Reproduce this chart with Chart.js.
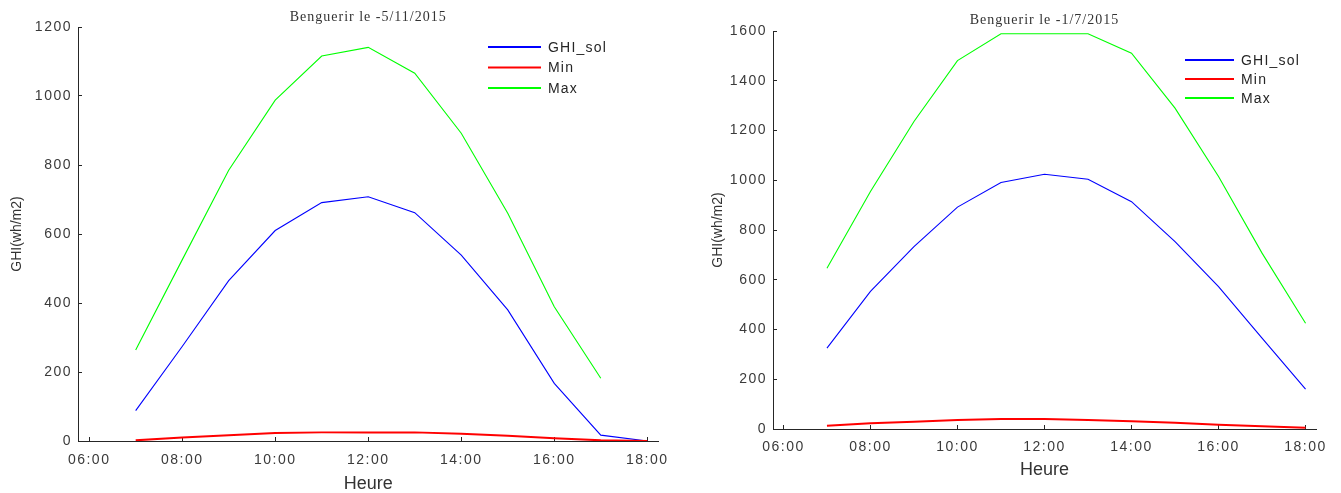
<!DOCTYPE html>
<html>
<head>
<meta charset="utf-8">
<title>GHI Benguerir</title>
<script src="https://cdn.jsdelivr.net/npm/chart.js@4.4.1/dist/chart.umd.min.js"></script>
<style>
  html, body { margin: 0; padding: 0; background: #fff; overflow: hidden; }
  .box { position: absolute; top: 0; height: 493px; }
  #boxNov { left: 0; width: 680px; }
  #boxJul { left: 680px; width: 661px; }
</style>
</head>
<body>
<div class="box" id="boxNov"><canvas id="chartNov"></canvas></div>
<div class="box" id="boxJul"><canvas id="chartJul"></canvas></div>
<script>
// heures de mesure
const heures = [7, 8, 9, 10, 11, 12, 13, 14, 15, 16, 17, 18];
const xTicks = [6, 8, 10, 12, 14, 16, 18];
const legende = ['GHI_sol', 'Min', 'Max'];

// 5/11/2015
const ghiSolNov = [88, 274, 465, 610, 691, 708, 662, 539, 380, 167, 17, 0];
const minNov = [2, 10, 17, 23, 25, 25, 25, 21, 15, 8, 2, 0];
const maxNov = [264, 525, 785, 988, 1116, 1141, 1066, 892, 660, 389, 182];

// 1/7/2015
const ghiSolJul = [325, 553, 733, 892, 991, 1024, 1004, 914, 753, 572, 365, 160];
const minJul = [13, 23, 29, 36, 40, 40, 36, 31, 25, 17, 11, 5];
const maxJul = [646, 955, 1236, 1481, 1589, 1589, 1589, 1511, 1290, 1015, 707, 425];

const couleurs = ['#0000ff', '#ff0000', '#00ff00'];
const axeCouleur = '#262626';
const police = '"Liberation Sans", Arial, sans-serif';

function points(vals) {
  return vals.map((v, i) => ({ x: heures[i], y: v }));
}

function heureLabel(v) {
  return String(v).padStart(2, '0') + ':00';
}

// titre, legende et noms des axes dessines a la main (style matlab)
const decor = {
  id: 'decor',
  beforeDraw(chart) {
    chart.ctx.letterSpacing = '1.5px';
  },
  afterDraw(chart, args, opts) {
    const ctx = chart.ctx;
    const a = chart.chartArea;
    ctx.save();
    ctx.textBaseline = 'middle';
    ctx.textAlign = 'center';

    ctx.letterSpacing = '1px';
    ctx.fillStyle = '#333';
    ctx.font = '14px "Liberation Serif", serif';
    ctx.fillText(opts.titre, (a.left + a.right) / 2, a.top - opts.titreDy);

    ctx.letterSpacing = '0px';
    ctx.font = '18px ' + police;
    ctx.fillText('Heure', (a.left + a.right) / 2, opts.heureY);

    ctx.save();
    ctx.translate(opts.ghiX, (a.top + a.bottom) / 2);
    ctx.rotate(-Math.PI / 2);
    ctx.font = '14px ' + police;
    ctx.fillText('GHI(wh/m2)', 0, 0);
    ctx.restore();

    ctx.letterSpacing = '1.2px';
    ctx.font = '14px ' + police;
    ctx.textAlign = 'left';
    legende.forEach((nom, i) => {
      const y = opts.legY + i * opts.legPas;
      ctx.strokeStyle = couleurs[i];
      ctx.lineWidth = 2;
      ctx.beginPath();
      ctx.moveTo(opts.legX, y);
      ctx.lineTo(opts.legX + opts.legLong, y);
      ctx.stroke();
      ctx.fillStyle = axeCouleur;
      ctx.fillText(nom, opts.legX + opts.legLong + 7, y + 1);
    });
    ctx.restore();
  }
};

function makeChart(id, c) {
  const ctx = document.getElementById(id).getContext('2d');
  return new Chart(ctx, {
    type: 'line',
    data: {
      datasets: [
        { label: 'GHI_sol', data: points(c.ghi), borderColor: couleurs[0], borderWidth: 1.1, order: 3 },
        { label: 'Min', data: points(c.min), borderColor: couleurs[1], borderWidth: 2, order: 2 },
        { label: 'Max', data: points(c.max), borderColor: couleurs[2], borderWidth: 1.1, order: 1 }
      ]
    },
    options: {
      responsive: true,
      maintainAspectRatio: false,
      animation: false,
      elements: { point: { radius: 0 }, line: { tension: 0 } },
      layout: { padding: { top: c.top, right: c.right, left: 0, bottom: 0 } },
      plugins: {
        legend: { display: false },
        tooltip: { enabled: false },
        decor: c.decor
      },
      scales: {
        x: {
          type: 'linear',
          min: 5.76,
          max: 18.24,
          afterBuildTicks: s => { s.ticks = xTicks.map(v => ({ value: v })); },
          afterFit: s => { s.height = c.xHeight; },
          grid: { drawOnChartArea: false, tickLength: -4, color: axeCouleur },
          border: { color: axeCouleur },
          ticks: {
            color: '#3a3a3a',
            font: { family: police, size: 14 },
            padding: c.xPad,
            maxRotation: 0,
            autoSkip: false,
            callback: v => heureLabel(v)
          }
        },
        y: {
          min: 0,
          max: c.yMax,
          afterFit: s => { s.width = c.yWidth; },
          grid: { drawOnChartArea: false, tickLength: -4, color: axeCouleur },
          border: { color: axeCouleur },
          ticks: {
            stepSize: 200,
            color: '#3a3a3a',
            font: { family: police, size: 14 },
            padding: 10,
            callback: v => String(v)
          }
        }
      }
    },
    plugins: [decor]
  });
}

makeChart('chartNov', {
  ghi: ghiSolNov, min: minNov, max: maxNov,
  yMax: 1200, top: 27, right: 10, yWidth: 78, xHeight: 52, xPad: 15,
  decor: { titre: 'Benguerir le -5/11/2015', titreDy: 10, heureY: 484.5, ghiX: 17,
           legX: 488, legY: 47, legPas: 20.5, legLong: 53 }
});

makeChart('chartJul', {
  ghi: ghiSolJul, min: minJul, max: maxJul,
  yMax: 1600, top: 31, right: 25, yWidth: 93, xHeight: 64, xPad: 13.5,
  decor: { titre: 'Benguerir le -1/7/2015', titreDy: 10.5, heureY: 470, ghiX: 38,
           legX: 505, legY: 60, legPas: 19, legLong: 49 }
});
</script>
</body>
</html>
